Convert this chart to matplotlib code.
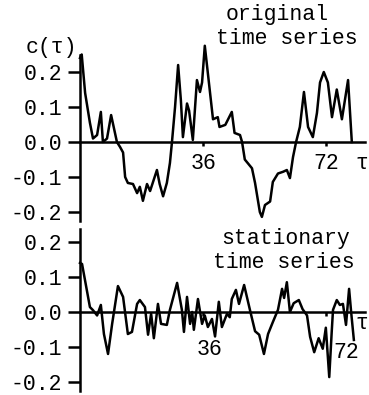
import matplotlib.pyplot as plt

plt.rcParams['font.family'] = ['Liberation Mono', 'DejaVu Sans Mono']

# original time series: lag tau and autocorrelation c(tau)
tau_orig = [0, 0.5, 1.5, 2.9, 3.8, 5.0, 6.1, 6.7, 7.9, 9.1, 10.8, 11.7, 12.6, 13.2,
            14.0, 15.5, 16.7, 17.5, 18.4, 19.6, 20.5, 22.5, 23.3, 24.3, 25.4, 26.3,
            26.9, 27.8, 28.7, 29.5, 30.1, 31.3, 31.9, 33.0, 34.2, 35.1, 35.7, 36.5,
            38.9, 40.3, 40.8, 42.5, 44.4, 45.2, 46.8, 47.4, 48.2, 50.3, 51.2, 52.6,
            53.2, 54.1, 55.6, 56.4, 57.9, 59.4, 60.5, 61.4, 62.3, 63.2, 64.3, 65.5,
            66.7, 68.1, 69.3, 70.2, 71.3, 72.5, 73.7, 75.1, 76.6, 78.4, 79.5]
c_orig = [0.24, 0.25, 0.14, 0.055, 0.01, 0.02, 0.086, 0.0, 0.01, 0.077, 0.0, -0.014,
          -0.03, -0.10, -0.117, -0.12, -0.146, -0.128, -0.168, -0.12, -0.14, -0.08,
          -0.12, -0.155, -0.117, -0.06, 0.0, 0.1, 0.22, 0.12, 0.014, 0.11, 0.09,
          0.006, 0.177, 0.143, 0.17, 0.275, 0.065, 0.071, 0.043, 0.049, 0.086, 0.026,
          0.02, 0.0, -0.05, -0.075, -0.117, -0.2, -0.214, -0.18, -0.17, -0.114,
          -0.09, -0.085, -0.08, -0.103, -0.043, 0.0, 0.043, 0.143, 0.043, 0.014,
          0.083, 0.17, 0.2, 0.17, 0.071, 0.15, 0.065, 0.177, 0.0]

# stationary time series
tau_stat = [0, 0.6, 2.9, 3.8, 5.0, 6.1, 7.0, 8.2, 9.4, 11.1, 12.6, 14.0, 15.2, 16.7,
            17.5, 19.0, 19.9, 20.8, 21.6, 22.8, 23.7, 25.4, 26.3, 28.4, 29.8, 30.4,
            31.3, 32.2, 32.8, 33.3, 34.5, 35.7, 36.5, 37.4, 38.6, 39.5, 40.6, 41.5,
            43.0, 43.8, 44.4, 45.6, 46.5, 48.0, 49.7, 51.2, 52.4, 53.8, 55.0, 56.4,
            57.9, 59.1, 59.7, 60.5, 61.4, 62.5, 64.0, 65.1, 66.4, 67.3, 68.5, 69.8,
            71.0, 71.9, 72.9, 73.6, 74.0, 75.1, 76.0, 76.9, 77.8, 78.7, 79.3, 80.1]
c_stat = [0.14, 0.137, 0.014, 0.005, -0.01, 0.02, -0.063, -0.12, -0.034, 0.074,
          0.043, -0.063, -0.057, 0.023, 0.034, 0.014, -0.065, -0.005, -0.075, 0.023,
          -0.034, -0.037, 0.006, 0.083, 0.006, -0.057, 0.043, -0.034, 0.0, -0.051,
          0.037, -0.034, -0.01, -0.043, -0.02, -0.07, 0.029, -0.043, -0.005, -0.015,
          0.037, 0.063, 0.023, 0.077, 0.006, -0.055, -0.065, -0.12, -0.063, -0.029,
          0.006, 0.066, 0.04, 0.085, 0.0, 0.025, 0.034, 0.008, -0.01, -0.071,
          -0.115, -0.075, -0.105, -0.045, -0.186, -0.06, 0.006, 0.034, 0.02, 0.023,
          -0.037, 0.066, 0.0, -0.08]

yticks = [0.2, 0.1, 0.0, -0.1, -0.2]
ylabels = ['0.2', '0.1', '0.0', '-0.1', '-0.2']
xticks = [36, 72]

fs = 15.5
lw = 1.8
fig = plt.figure(figsize=(3.69, 3.95), dpi=100)
ax1 = fig.add_axes([0.2168, 0.4411, 0.7737, 0.4209])
ax2 = fig.add_axes([0.2168, 0.0108, 0.7737, 0.4095])

for ax, t, c in [(ax1, tau_orig, c_orig), (ax2, tau_stat, c_stat)]:
    ax.plot(t, c, color='black', lw=lw, clip_on=False)
    ax.set_xlim(0, 83.5)
    ax.spines['top'].set_visible(False)
    ax.spines['right'].set_visible(False)
    ax.spines['bottom'].set_position(('data', 0))
    ax.spines['left'].set_linewidth(lw)
    ax.spines['bottom'].set_linewidth(lw)
    ax.set_yticks(yticks)
    ax.set_yticklabels(ylabels)
    ax.set_xticks(xticks)
    ax.tick_params(axis='y', length=9, width=lw, pad=4, labelsize=fs)
    ax.tick_params(axis='x', length=3, width=lw, pad=5, labelsize=fs)
    ax.patch.set_visible(False)

ax1.set_ylim(-0.225, 0.25)
ax2.set_ylim(-0.225, 0.237)
ax2.set_xticklabels([])

ax1.text(-8.5, 0.269, 'c(τ)', fontsize=fs, ha='center', va='center', clip_on=False)
ax1.text(82.5, -0.06, 'τ', fontsize=fs, ha='center', va='center', clip_on=False)
ax1.text(57.6, 0.363, 'original', fontsize=fs, ha='center', va='center', clip_on=False)
ax1.text(60.5, 0.297, 'time series', fontsize=fs, ha='center', va='center', clip_on=False)

ax2.text(82.5, -0.034, 'τ', fontsize=fs, ha='center', va='center', clip_on=False)
ax2.text(60.0, 0.209, 'stationary', fontsize=fs, ha='center', va='center', clip_on=False)
ax2.text(59.5, 0.14, 'time series', fontsize=fs, ha='center', va='center', clip_on=False)
ax2.text(38.0, -0.106, '36', fontsize=fs, ha='center', va='center')
ax2.text(78.0, -0.115, '72', fontsize=fs, ha='center', va='center', clip_on=False)

fig.savefig('out.png', dpi=100)
